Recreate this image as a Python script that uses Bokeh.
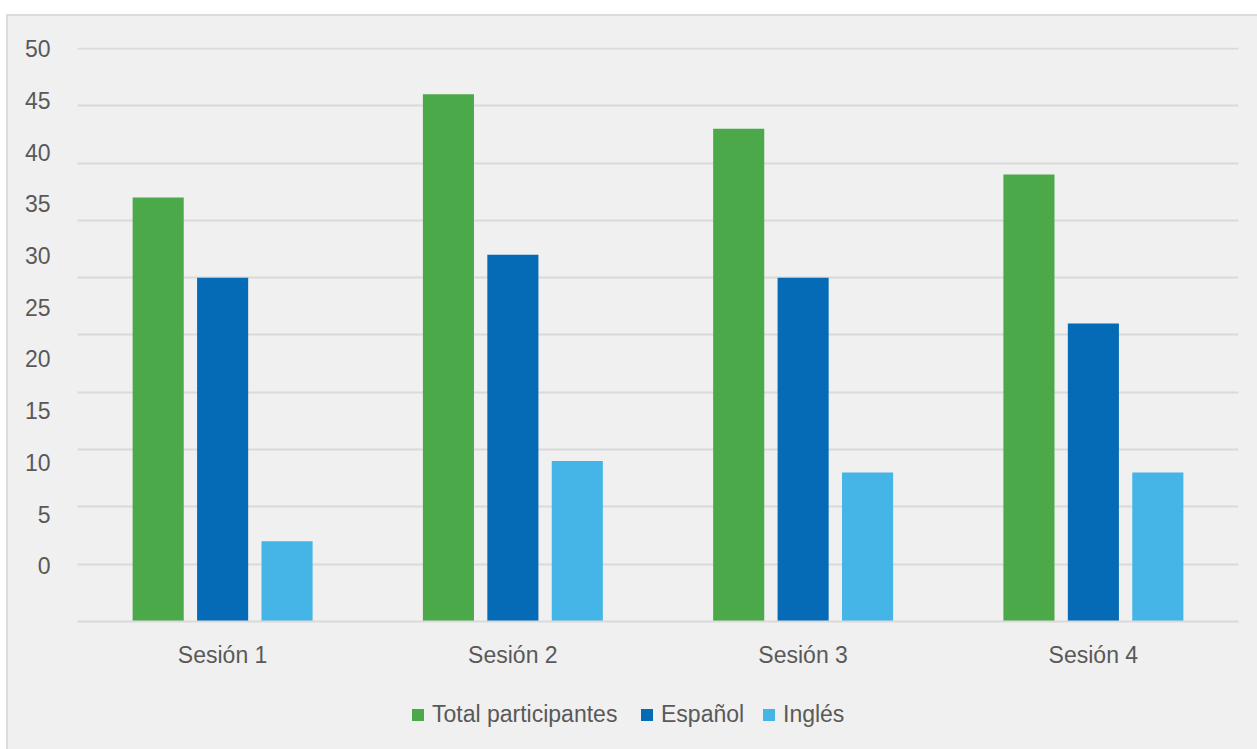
from bokeh.plotting import figure
from bokeh.layouts import column
from bokeh.models import (ColumnDataSource, FactorRange, Range1d, LinearAxis, FixedTicker,
                          Grid, Legend, LegendItem)
from bokeh.transform import dodge
from bokeh.embed import file_html
from bokeh.resources import INLINE

sessions = ["Sesión 1", "Sesión 2", "Sesión 3", "Sesión 4"]
total = [37, 46, 43, 39]
espanol = [30, 32, 30, 26]
ingles = [7, 14, 13, 13]
series_names = ["Total participantes", "Español", "Inglés"]
y_ticks = [0, 5, 10, 15, 20, 25, 30, 35, 40, 45, 50]

colors = ["#4ba94a", "#056bb6", "#45b4e6"]
FONT = "Liberation Sans"
TXT = "#595959"
BG = "#f0f0f0"
GRID = "#d9d9d9"

source = ColumnDataSource(dict(x=sessions, total=total, espanol=espanol, ingles=ingles))

p = figure(x_range=FactorRange(*sessions, range_padding=0), y_range=Range1d(0, 50.08),
           width=1249, height=674, output_backend="svg", toolbar_location=None,
           y_axis_location=None,
           min_border_left=69, min_border_right=19, min_border_top=31, min_border_bottom=69,
           background_fill_color=BG, border_fill_color=BG)
p.outline_line_color = None
p.xgrid.grid_line_color = None

# label axis (offset as in the reference rendering)
p.extra_y_ranges = {"lbl": Range1d(-5.37, 50.1)}
yax = LinearAxis(y_range_name="lbl", ticker=FixedTicker(ticks=y_ticks))
yax.axis_line_color = None
yax.major_tick_line_color = None
yax.minor_tick_line_color = None
yax.major_label_standoff = 21
yax.major_label_text_font = FONT
yax.major_label_text_font_size = "23px"
yax.major_label_text_color = TXT
p.add_layout(yax, "left")

p.add_layout(Grid(dimension=1, ticker=FixedTicker(ticks=y_ticks),
                  grid_line_color=GRID, grid_line_width=2))

xax = p.xaxis[0]
xax.axis_line_color = GRID
xax.axis_line_width = 2
xax.major_tick_line_color = None
xax.minor_tick_line_color = None
xax.major_label_standoff = 14
xax.major_label_text_font = FONT
xax.major_label_text_font_size = "23px"
xax.major_label_text_color = TXT

w = 0.176
offs = [-0.222, 0.0, 0.222]
cols = ["total", "espanol", "ingles"]
for c, o, col in zip(cols, offs, colors):
    p.vbar(x=dodge("x", o, range=p.x_range), top=c, width=w, bottom=0,
           source=source, fill_color=col, line_color=None)

# legend strip below the chart (its frame is aligned with the chart's frame)
lf = figure(x_range=Range1d(0, 1), y_range=Range1d(0, 1), width=1249, height=59,
            output_backend="svg", toolbar_location=None,
            x_axis_location=None, y_axis_location=None,
            min_border=0, background_fill_color=BG, border_fill_color=BG)
lf.outline_line_color = None
lf.xgrid.visible = False
lf.ygrid.visible = False

leg_x = [333, 562, 684]
for name, col, lx in zip(series_names, colors, leg_x):
    # zero-height proxy bar, only used for its legend swatch
    proxy = lf.vbar(x=[-1.0], top=[0.0], bottom=[0.0], width=0.01,
                    fill_color=col, line_color=None)
    lg = Legend(items=[LegendItem(label=name, renderers=[proxy])],
                orientation="horizontal", glyph_width=15, glyph_height=15,
                label_standoff=7, spacing=0, padding=0, margin=0,
                background_fill_alpha=0, border_line_alpha=0,
                label_text_font=FONT, label_text_font_size="23px", label_text_color=TXT,
                location=(lx, 21))
    lf.add_layout(lg, "center")

layout = column(p, lf, margin=(16, 0, 0, 8), spacing=0,
                styles={"outline": "2px solid #dcdcdc", "background-color": BG})

open("out.html", "w").write(file_html(layout, INLINE))
